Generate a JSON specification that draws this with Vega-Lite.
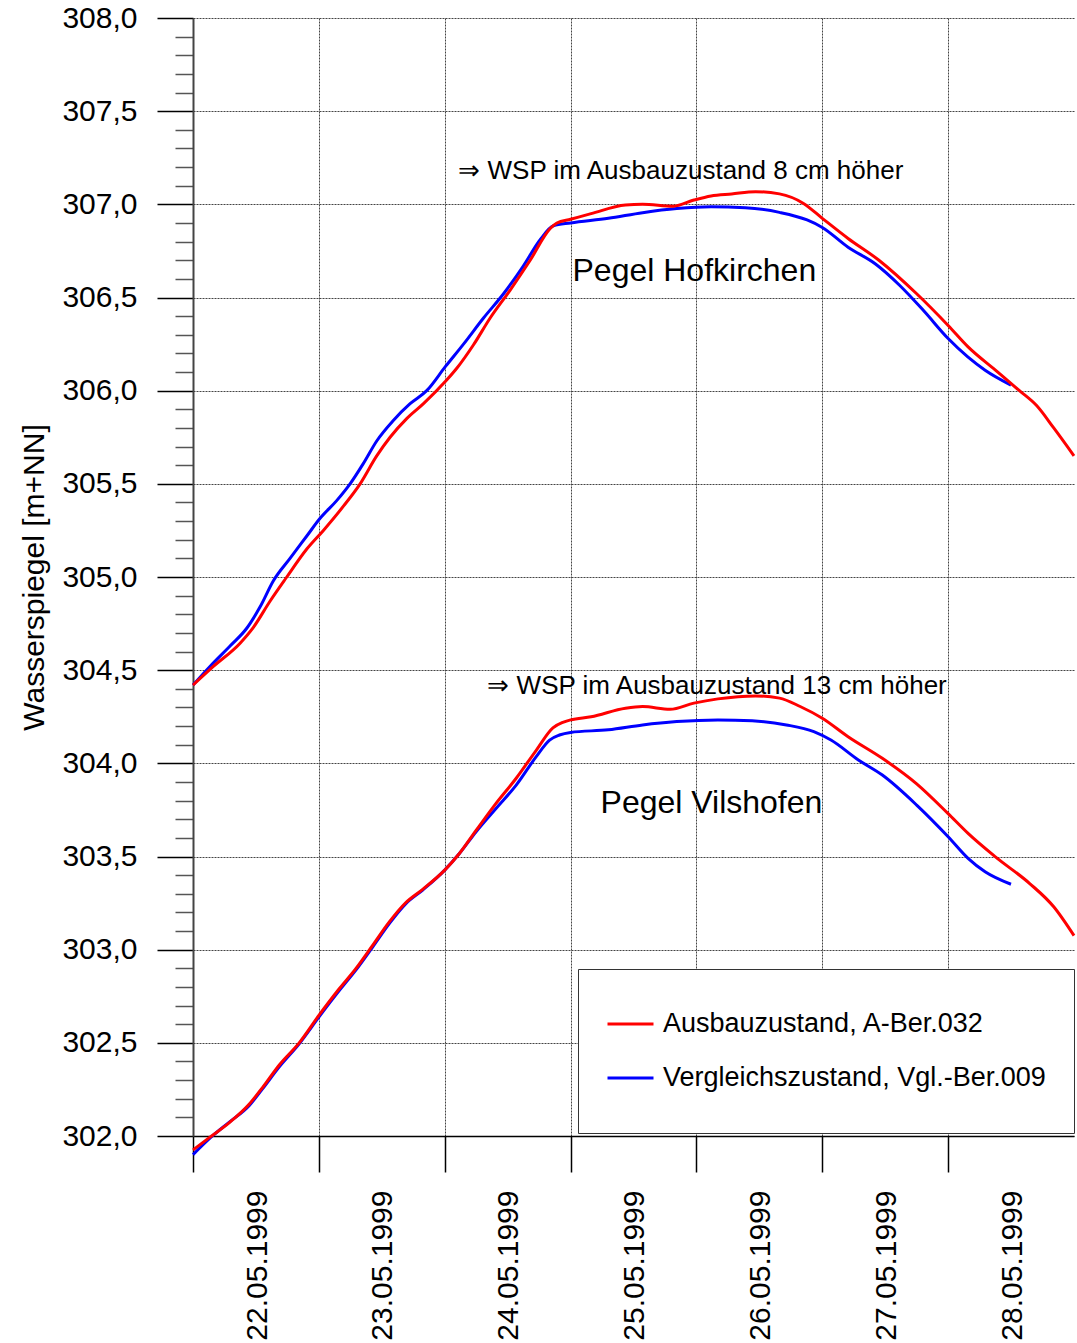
{
  "$schema": "https://vega.github.io/schema/vega-lite/v6.json",
  "width": 881,
  "height": 1118,
  "autosize": {"type": "none"},
  "padding": {"left": 193, "top": 18, "right": 3, "bottom": 207},
  "background": "white",
  "config": {"view": {"stroke": null}, "font": "Liberation Sans"},
  "layer": [
    {
      "data": {"values": [
        {"p":"H","z":"V","t":"1999-05-22T00:00","v":304.42},
        {"p":"H","z":"V","t":"1999-05-22T03:14","v":304.52},
        {"p":"H","z":"V","t":"1999-05-22T07:04","v":304.63},
        {"p":"H","z":"V","t":"1999-05-22T10:15","v":304.725},
        {"p":"H","z":"V","t":"1999-05-22T12:48","v":304.84},
        {"p":"H","z":"V","t":"1999-05-22T15:20","v":304.98},
        {"p":"H","z":"V","t":"1999-05-22T18:30","v":305.10},
        {"p":"H","z":"V","t":"1999-05-22T21:42","v":305.22},
        {"p":"H","z":"V","t":"1999-05-23T00:14","v":305.315},
        {"p":"H","z":"V","t":"1999-05-23T03:24","v":305.41},
        {"p":"H","z":"V","t":"1999-05-23T05:57","v":305.50},
        {"p":"H","z":"V","t":"1999-05-23T08:30","v":305.61},
        {"p":"H","z":"V","t":"1999-05-23T11:02","v":305.73},
        {"p":"H","z":"V","t":"1999-05-23T14:12","v":305.84},
        {"p":"H","z":"V","t":"1999-05-23T17:24","v":305.93},
        {"p":"H","z":"V","t":"1999-05-23T20:34","v":306.00},
        {"p":"H","z":"V","t":"1999-05-24T00:09","v":306.13},
        {"p":"H","z":"V","t":"1999-05-24T03:35","v":306.25},
        {"p":"H","z":"V","t":"1999-05-24T07:24","v":306.39},
        {"p":"H","z":"V","t":"1999-05-24T11:13","v":306.52},
        {"p":"H","z":"V","t":"1999-05-24T15:01","v":306.67},
        {"p":"H","z":"V","t":"1999-05-24T18:12","v":306.81},
        {"p":"H","z":"V","t":"1999-05-24T20:44","v":306.885},
        {"p":"H","z":"V","t":"1999-05-25T00:00","v":306.90},
        {"p":"H","z":"V","t":"1999-05-25T07:12","v":306.925},
        {"p":"H","z":"V","t":"1999-05-25T13:44","v":306.955},
        {"p":"H","z":"V","t":"1999-05-25T20:15","v":306.977},
        {"p":"H","z":"V","t":"1999-05-26T02:47","v":306.987},
        {"p":"H","z":"V","t":"1999-05-26T09:20","v":306.982},
        {"p":"H","z":"V","t":"1999-05-26T15:50","v":306.957},
        {"p":"H","z":"V","t":"1999-05-26T21:06","v":306.916},
        {"p":"H","z":"V","t":"1999-05-27T00:00","v":306.876},
        {"p":"H","z":"V","t":"1999-05-27T04:55","v":306.77},
        {"p":"H","z":"V","t":"1999-05-27T10:09","v":306.68},
        {"p":"H","z":"V","t":"1999-05-27T14:44","v":306.566},
        {"p":"H","z":"V","t":"1999-05-27T19:18","v":306.43},
        {"p":"H","z":"V","t":"1999-05-28T00:00","v":306.28},
        {"p":"H","z":"V","t":"1999-05-28T03:48","v":306.18},
        {"p":"H","z":"V","t":"1999-05-28T07:03","v":306.11},
        {"p":"H","z":"V","t":"1999-05-28T11:59","v":306.03},

        {"p":"V","z":"V","t":"1999-05-22T00:00","v":301.90},
        {"p":"V","z":"V","t":"1999-05-22T03:42","v":302.0},
        {"p":"V","z":"V","t":"1999-05-22T06:52","v":302.073},
        {"p":"V","z":"V","t":"1999-05-22T10:42","v":302.163},
        {"p":"V","z":"V","t":"1999-05-22T13:15","v":302.253},
        {"p":"V","z":"V","t":"1999-05-22T16:25","v":302.37},
        {"p":"V","z":"V","t":"1999-05-22T20:15","v":302.495},
        {"p":"V","z":"V","t":"1999-05-23T00:00","v":302.638},
        {"p":"V","z":"V","t":"1999-05-23T03:53","v":302.78},
        {"p":"V","z":"V","t":"1999-05-23T07:03","v":302.89},
        {"p":"V","z":"V","t":"1999-05-23T10:15","v":303.014},
        {"p":"V","z":"V","t":"1999-05-23T13:26","v":303.14},
        {"p":"V","z":"V","t":"1999-05-23T16:36","v":303.247},
        {"p":"V","z":"V","t":"1999-05-23T19:48","v":303.32},
        {"p":"V","z":"V","t":"1999-05-24T00:00","v":303.427},
        {"p":"V","z":"V","t":"1999-05-24T02:48","v":303.516},
        {"p":"V","z":"V","t":"1999-05-24T05:59","v":303.633},
        {"p":"V","z":"V","t":"1999-05-24T09:47","v":303.758},
        {"p":"V","z":"V","t":"1999-05-24T13:38","v":303.883},
        {"p":"V","z":"V","t":"1999-05-24T17:27","v":304.036},
        {"p":"V","z":"V","t":"1999-05-24T20:00","v":304.125},
        {"p":"V","z":"V","t":"1999-05-24T21:53","v":304.152},
        {"p":"V","z":"V","t":"1999-05-25T00:00","v":304.166},
        {"p":"V","z":"V","t":"1999-05-25T07:12","v":304.18},
        {"p":"V","z":"V","t":"1999-05-25T13:44","v":304.206},
        {"p":"V","z":"V","t":"1999-05-25T20:15","v":304.224},
        {"p":"V","z":"V","t":"1999-05-26T04:06","v":304.233},
        {"p":"V","z":"V","t":"1999-05-26T10:38","v":304.228},
        {"p":"V","z":"V","t":"1999-05-26T17:10","v":304.206},
        {"p":"V","z":"V","t":"1999-05-26T22:23","v":304.17},
        {"p":"V","z":"V","t":"1999-05-27T01:39","v":304.125},
        {"p":"V","z":"V","t":"1999-05-27T06:53","v":304.018},
        {"p":"V","z":"V","t":"1999-05-27T11:27","v":303.937},
        {"p":"V","z":"V","t":"1999-05-27T18:00","v":303.776},
        {"p":"V","z":"V","t":"1999-05-28T00:00","v":303.606},
        {"p":"V","z":"V","t":"1999-05-28T03:48","v":303.49},
        {"p":"V","z":"V","t":"1999-05-28T07:03","v":303.418},
        {"p":"V","z":"V","t":"1999-05-28T11:59","v":303.351},

        {"p":"H","z":"A","t":"1999-05-22T00:00","v":304.42},
        {"p":"H","z":"A","t":"1999-05-22T03:53","v":304.52},
        {"p":"H","z":"A","t":"1999-05-22T08:59","v":304.645},
        {"p":"H","z":"A","t":"1999-05-22T11:31","v":304.73},
        {"p":"H","z":"A","t":"1999-05-22T14:41","v":304.87},
        {"p":"H","z":"A","t":"1999-05-22T17:53","v":305.00},
        {"p":"H","z":"A","t":"1999-05-22T21:42","v":305.15},
        {"p":"H","z":"A","t":"1999-05-23T00:52","v":305.25},
        {"p":"H","z":"A","t":"1999-05-23T04:41","v":305.38},
        {"p":"H","z":"A","t":"1999-05-23T07:52","v":305.50},
        {"p":"H","z":"A","t":"1999-05-23T11:02","v":305.65},
        {"p":"H","z":"A","t":"1999-05-23T13:35","v":305.75},
        {"p":"H","z":"A","t":"1999-05-23T16:45","v":305.85},
        {"p":"H","z":"A","t":"1999-05-23T19:57","v":305.93},
        {"p":"H","z":"A","t":"1999-05-24T00:09","v":306.05},
        {"p":"H","z":"A","t":"1999-05-24T02:18","v":306.12},
        {"p":"H","z":"A","t":"1999-05-24T05:28","v":306.245},
        {"p":"H","z":"A","t":"1999-05-24T08:40","v":306.39},
        {"p":"H","z":"A","t":"1999-05-24T12:29","v":306.54},
        {"p":"H","z":"A","t":"1999-05-24T16:18","v":306.70},
        {"p":"H","z":"A","t":"1999-05-24T20:07","v":306.87},
        {"p":"H","z":"A","t":"1999-05-24T21:23","v":306.90},
        {"p":"H","z":"A","t":"1999-05-25T00:00","v":306.92},
        {"p":"H","z":"A","t":"1999-05-25T03:55","v":306.95},
        {"p":"H","z":"A","t":"1999-05-25T10:28","v":306.996},
        {"p":"H","z":"A","t":"1999-05-25T13:44","v":307.0},
        {"p":"H","z":"A","t":"1999-05-25T19:36","v":306.99},
        {"p":"H","z":"A","t":"1999-05-25T23:31","v":307.023},
        {"p":"H","z":"A","t":"1999-05-26T02:47","v":307.045},
        {"p":"H","z":"A","t":"1999-05-26T06:43","v":307.056},
        {"p":"H","z":"A","t":"1999-05-26T11:17","v":307.068},
        {"p":"H","z":"A","t":"1999-05-26T15:50","v":307.056},
        {"p":"H","z":"A","t":"1999-05-26T20:25","v":307.005},
        {"p":"H","z":"A","t":"1999-05-27T00:00","v":306.925},
        {"p":"H","z":"A","t":"1999-05-27T04:55","v":306.817},
        {"p":"H","z":"A","t":"1999-05-27T10:48","v":306.70},
        {"p":"H","z":"A","t":"1999-05-27T18:00","v":306.52},
        {"p":"H","z":"A","t":"1999-05-28T00:00","v":306.35},
        {"p":"H","z":"A","t":"1999-05-28T03:48","v":306.235},
        {"p":"H","z":"A","t":"1999-05-28T09:01","v":306.11},
        {"p":"H","z":"A","t":"1999-05-28T13:36","v":306.0},
        {"p":"H","z":"A","t":"1999-05-28T16:52","v":305.92},
        {"p":"H","z":"A","t":"1999-05-28T20:08","v":305.80},
        {"p":"H","z":"A","t":"1999-05-29T00:00","v":305.65},

        {"p":"V","z":"A","t":"1999-05-22T00:00","v":301.925},
        {"p":"V","z":"A","t":"1999-05-22T03:03","v":301.99},
        {"p":"V","z":"A","t":"1999-05-22T06:52","v":302.07},
        {"p":"V","z":"A","t":"1999-05-22T10:42","v":302.17},
        {"p":"V","z":"A","t":"1999-05-22T13:15","v":302.26},
        {"p":"V","z":"A","t":"1999-05-22T16:25","v":302.38},
        {"p":"V","z":"A","t":"1999-05-22T20:15","v":302.50},
        {"p":"V","z":"A","t":"1999-05-23T00:00","v":302.647},
        {"p":"V","z":"A","t":"1999-05-23T03:53","v":302.79},
        {"p":"V","z":"A","t":"1999-05-23T07:03","v":302.898},
        {"p":"V","z":"A","t":"1999-05-23T10:15","v":303.023},
        {"p":"V","z":"A","t":"1999-05-23T13:26","v":303.149},
        {"p":"V","z":"A","t":"1999-05-23T16:36","v":303.253},
        {"p":"V","z":"A","t":"1999-05-23T19:48","v":303.324},
        {"p":"V","z":"A","t":"1999-05-24T00:00","v":303.427},
        {"p":"V","z":"A","t":"1999-05-24T02:48","v":303.516},
        {"p":"V","z":"A","t":"1999-05-24T05:59","v":303.64},
        {"p":"V","z":"A","t":"1999-05-24T09:47","v":303.785},
        {"p":"V","z":"A","t":"1999-05-24T13:38","v":303.92},
        {"p":"V","z":"A","t":"1999-05-24T17:27","v":304.07},
        {"p":"V","z":"A","t":"1999-05-24T20:38","v":304.19},
        {"p":"V","z":"A","t":"1999-05-24T22:32","v":304.22},
        {"p":"V","z":"A","t":"1999-05-25T00:00","v":304.233},
        {"p":"V","z":"A","t":"1999-05-25T03:55","v":304.25},
        {"p":"V","z":"A","t":"1999-05-25T10:28","v":304.296},
        {"p":"V","z":"A","t":"1999-05-25T13:44","v":304.305},
        {"p":"V","z":"A","t":"1999-05-25T18:58","v":304.29},
        {"p":"V","z":"A","t":"1999-05-25T23:31","v":304.323},
        {"p":"V","z":"A","t":"1999-05-26T04:06","v":304.346},
        {"p":"V","z":"A","t":"1999-05-26T11:17","v":304.362},
        {"p":"V","z":"A","t":"1999-05-26T15:50","v":304.35},
        {"p":"V","z":"A","t":"1999-05-26T19:47","v":304.305},
        {"p":"V","z":"A","t":"1999-05-27T00:00","v":304.242},
        {"p":"V","z":"A","t":"1999-05-27T04:55","v":304.143},
        {"p":"V","z":"A","t":"1999-05-27T11:27","v":304.027},
        {"p":"V","z":"A","t":"1999-05-27T18:00","v":303.89},
        {"p":"V","z":"A","t":"1999-05-28T00:00","v":303.73},
        {"p":"V","z":"A","t":"1999-05-28T03:48","v":303.624},
        {"p":"V","z":"A","t":"1999-05-28T09:01","v":303.498},
        {"p":"V","z":"A","t":"1999-05-28T15:33","v":303.355},
        {"p":"V","z":"A","t":"1999-05-28T20:08","v":303.23},
        {"p":"V","z":"A","t":"1999-05-29T00:00","v":303.075}
      ]},
      "mark": {"type": "line", "strokeWidth": 3, "interpolate": "monotone", "clip": false},
      "encoding": {
        "x": {
          "field": "t", "type": "temporal",
          "scale": {"domain": [{"year": 1999, "month": 5, "date": 22}, {"year": 1999, "month": 5, "date": 29}], "nice": false},
          "axis": {
            "values": [
              {"year": 1999, "month": 5, "date": 22},
              {"year": 1999, "month": 5, "date": 23},
              {"year": 1999, "month": 5, "date": 24},
              {"year": 1999, "month": 5, "date": 25},
              {"year": 1999, "month": 5, "date": 26},
              {"year": 1999, "month": 5, "date": 27},
              {"year": 1999, "month": 5, "date": 28}
            ],
            "tickCount": 100,
            "format": "%d.%m.%Y",
            "title": null,
            "labelAngle": 270,
            "labelFontSize": 30,
            "labelFont": "Liberation Sans",
            "labelColor": "black",
            "labelOffset": 64,
            "labelPadding": 18,
            "labelFlush": false,
            "labelOverlap": false,
            "tickSize": 36,
            "tickColor": "#000000",
            "tickWidth": 1.5,
            "grid": true,
            "gridDash": [2, 1],
            "gridColor": "#444444",
            "gridWidth": 1,
            "domainColor": "#000000",
            "domainWidth": 1.5
          }
        },
        "y": {
          "field": "v", "type": "quantitative",
          "scale": {"domain": [302, 308], "nice": false, "zero": false},
          "axis": {
            "values": [302, 302.1, 302.2, 302.3, 302.4, 302.5, 302.6, 302.7, 302.8, 302.9,
                       303, 303.1, 303.2, 303.3, 303.4, 303.5, 303.6, 303.7, 303.8, 303.9,
                       304, 304.1, 304.2, 304.3, 304.4, 304.5, 304.6, 304.7, 304.8, 304.9,
                       305, 305.1, 305.2, 305.3, 305.4, 305.5, 305.6, 305.7, 305.8, 305.9,
                       306, 306.1, 306.2, 306.3, 306.4, 306.5, 306.6, 306.7, 306.8, 306.9,
                       307, 307.1, 307.2, 307.3, 307.4, 307.5, 307.6, 307.7, 307.8, 307.9, 308],
            "tickCount": 200,
            "title": "Wasserspiegel [m+NN]",
            "titleFontSize": 30,
            "titleFont": "Liberation Sans",
            "titleFontWeight": "normal",
            "titleColor": "black",
            "titlePadding": 12,
            "labelFontSize": 30,
            "labelFont": "Liberation Sans",
            "labelColor": "black",
            "labelPadding": 20,
            "labelOverlap": false,
            "labelExpr": "abs(datum.value*2 - round(datum.value*2)) < 0.01 ? replace(format(datum.value, '.1f'), '.', ',') : ''",
            "tickSize": {"condition": {"test": "abs(datum.value*2 - round(datum.value*2)) < 0.01", "value": 36}, "value": 18},
            "tickColor": {"condition": {"test": "abs(datum.value*2 - round(datum.value*2)) < 0.01", "value": "#000000"}, "value": "#555555"},
            "tickWidth": 1.5,
            "grid": true,
            "gridDash": [2, 1],
            "gridColor": "#444444",
            "gridWidth": 1,
            "gridOpacity": {"condition": {"test": "abs(datum.value*2 - round(datum.value*2)) < 0.01", "value": 1}, "value": 0},
            "domainColor": "#444444",
            "domainWidth": 2
          }
        },
        "color": {
          "field": "z", "type": "nominal",
          "scale": {"domain": ["A", "V"], "range": ["#ff0000", "#0000ff"]},
          "legend": {
            "orient": "none",
            "legendX": 385,
            "legendY": 951,
            "title": null,
            "symbolType": "stroke",
            "symbolStrokeWidth": 3,
            "symbolSize": 2116,
            "clipHeight": 54,
            "labelFontSize": 27,
            "labelFont": "Liberation Sans",
            "labelColor": "black",
            "labelLimit": 0,
            "labelOffset": 8,
            "rowPadding": 0,
            "padding": 28,
            "strokeColor": "#333333",
            "fillColor": "white",
            "labelExpr": "datum.label == 'A' ? 'Ausbauzustand, A-Ber.032' : 'Vergleichszustand, Vgl.-Ber.009'"
          }
        },
        "detail": {"field": "p", "type": "nominal"}
      }
    },
    {
      "data": {"values": [
        {"t": "1999-05-24T02:36", "v": 307.18, "label": "⇒ WSP im Ausbauzustand 8 cm höher"},
        {"t": "1999-05-24T08:08", "v": 304.415, "label": "⇒ WSP im Ausbauzustand 13 cm höher"}
      ]},
      "mark": {"type": "text", "align": "left", "baseline": "middle", "fontSize": 26, "font": "Liberation Sans", "color": "black"},
      "encoding": {
        "x": {"field": "t", "type": "temporal"},
        "y": {"field": "v", "type": "quantitative"},
        "text": {"field": "label"}
      }
    },
    {
      "data": {"values": [
        {"t": "1999-05-25T00:22", "v": 306.64, "label": "Pegel Hofkirchen"},
        {"t": "1999-05-25T05:43", "v": 303.787, "label": "Pegel Vilshofen"}
      ]},
      "mark": {"type": "text", "align": "left", "baseline": "middle", "fontSize": 32, "font": "Liberation Sans", "color": "black"},
      "encoding": {
        "x": {"field": "t", "type": "temporal"},
        "y": {"field": "v", "type": "quantitative"},
        "text": {"field": "label"}
      }
    }
  ]
}
